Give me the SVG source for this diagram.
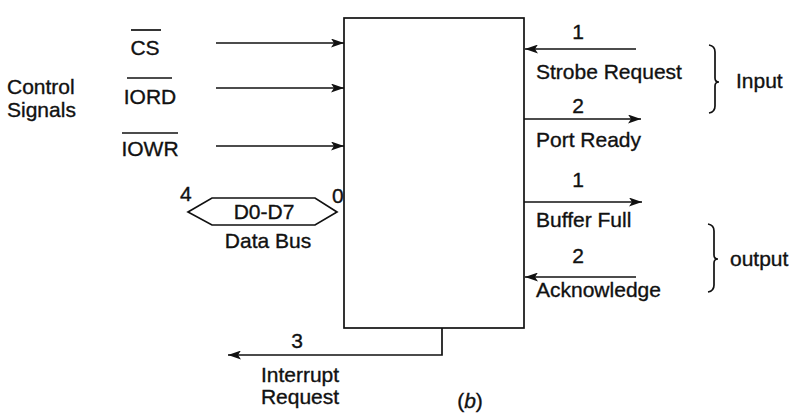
<svg xmlns="http://www.w3.org/2000/svg" width="796" height="417" viewBox="0 0 796 417">
<defs>
<marker id="ah" viewBox="0 0 13 9" refX="13" refY="4.5" markerWidth="13" markerHeight="9" markerUnits="userSpaceOnUse" orient="auto">
<path d="M0,0 L13,4.5 L0,9 L3,4.5 Z" fill="#111"/>
</marker>
</defs>
<style>
text{font-family:"Liberation Sans",Arial,sans-serif;font-size:21px;fill:#111;stroke:#111;stroke-width:0.35}
.c{text-anchor:middle}
.ln{stroke:#111;stroke-width:1.7;fill:none}
.ar{stroke:#111;stroke-width:1.7;fill:none;marker-end:url(#ah)}
</style>
<rect width="796" height="417" fill="#fff"/>
<g id="chip"><rect x="344" y="18" width="180" height="310" class="ln"/></g>
<g id="control-label"><text x="7" y="94">Control</text><text x="7" y="117">Signals</text></g>
<g id="cs"><text x="145" y="55" class="c">CS</text><line x1="131" y1="30" x2="161" y2="30" class="ln"/></g>
<g id="iord"><text x="150" y="104" class="c">IORD</text><line x1="127" y1="78" x2="172" y2="78" class="ln"/></g>
<g id="iowr"><text x="150" y="156" class="c">IOWR</text><line x1="122" y1="133" x2="178" y2="133" class="ln"/></g>
<g id="databus">
<polygon points="188,212 212,198 315,198 337,212 315,225 212,225" class="ln"/>
<text x="264" y="219" class="c">D0-D7</text>
<text x="180" y="201" font-size="18">4</text>
<text x="332" y="203" font-size="18">0</text>
<text x="268" y="248" class="c">Data Bus</text>
</g>
<g id="strobe"><text x="578" y="39" class="c" font-size="19">1</text><text x="536" y="79">Strobe Request</text></g>
<g id="portready"><text x="578" y="113" class="c" font-size="19">2</text><text x="536" y="147">Port Ready</text></g>
<g id="bufferfull"><text x="578" y="187" class="c" font-size="19">1</text><text x="536" y="227">Buffer Full</text></g>
<g id="ack"><text x="578" y="263" class="c" font-size="19">2</text><text x="536" y="297">Acknowledge</text></g>
<g id="input-group">
<path d="M709,45 Q715,46 715,52 L715,78 Q715,82 719,82 Q715,82 715,86 L715,106 Q715,112 709,113" class="ln"/>
<text x="736" y="88">Input</text>
</g>
<g id="output-group">
<path d="M708,224 Q714,225 714,231 L714,255 Q714,259 718,259 Q714,259 714,263 L714,285 Q714,291 708,292" class="ln"/>
<text x="730" y="266">output</text>
</g>
<g id="interrupt"><text x="297" y="348" class="c" font-size="19">3</text><text x="300" y="382" class="c">Interrupt</text><text x="300" y="404" class="c">Request</text></g>
<g id="caption"><text x="470" y="408" class="c">(<tspan font-style="italic">b</tspan>)</text></g>
<g id="connectors">
<line x1="216" y1="43" x2="344" y2="43" class="ar"/>
<line x1="216" y1="88" x2="344" y2="88" class="ar"/>
<line x1="216" y1="146" x2="344" y2="146" class="ar"/>
<line x1="636" y1="49" x2="525" y2="49" class="ar"/>
<line x1="524" y1="119" x2="641" y2="119" class="ar"/>
<line x1="524" y1="202" x2="642" y2="202" class="ar"/>
<line x1="636" y1="277" x2="525" y2="277" class="ar"/>
<polyline points="442,328 442,355 228,355" class="ar"/>
</g>
</svg>
